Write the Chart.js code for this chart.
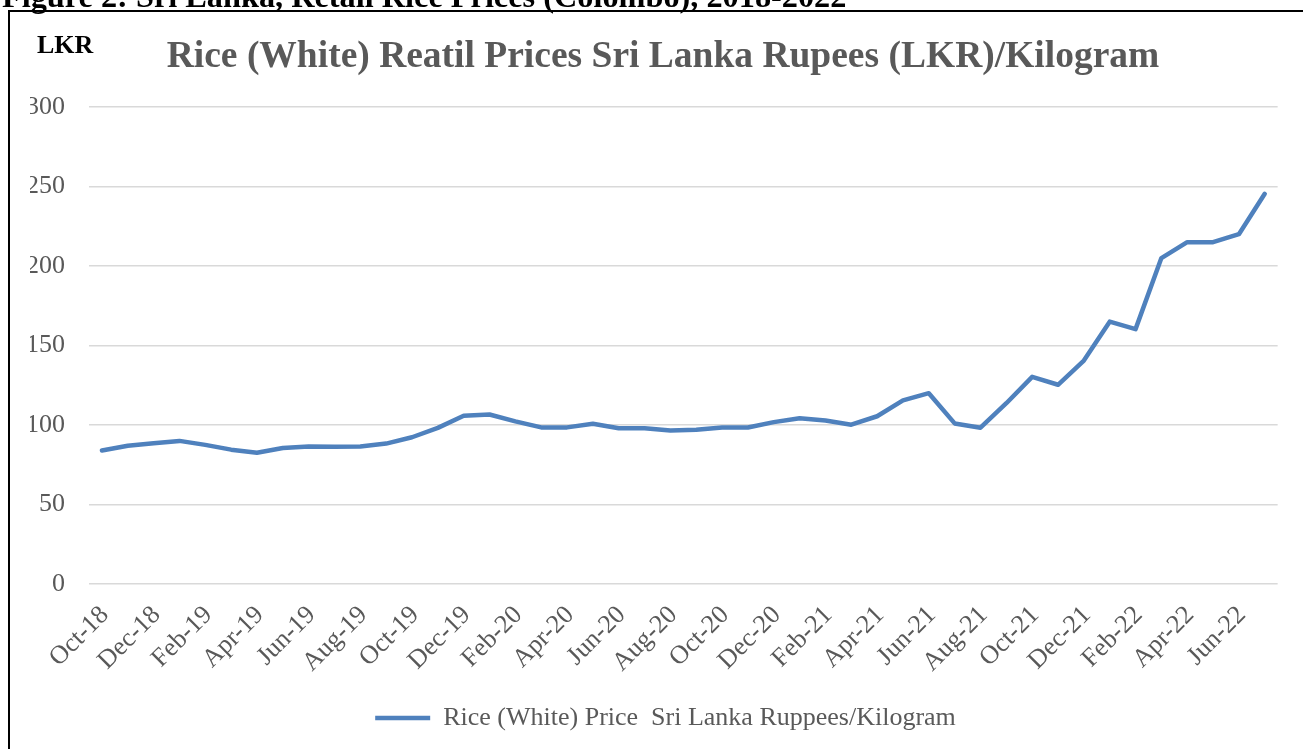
<!DOCTYPE html>
<html>
<head>
<meta charset="utf-8">
<script src="https://cdn.jsdelivr.net/npm/chart.js@4/dist/chart.umd.min.js"></script>
<style>
  html, body { margin: 0; padding: 0; background: #ffffff; }
  #wrap { position: relative; width: 1303px; height: 749px; overflow: hidden; }
  canvas { display: block; }
</style>
</head>
<body>
<div id="wrap"><canvas id="c" width="1303" height="749"></canvas></div>
<script>
const months = [
  "Oct-18","Nov-18","Dec-18","Jan-19","Feb-19","Mar-19","Apr-19","May-19","Jun-19","Jul-19","Aug-19","Sep-19",
  "Oct-19","Nov-19","Dec-19","Jan-20","Feb-20","Mar-20","Apr-20","May-20","Jun-20","Jul-20","Aug-20","Sep-20",
  "Oct-20","Nov-20","Dec-20","Jan-21","Feb-21","Mar-21","Apr-21","May-21","Jun-21","Jul-21","Aug-21","Sep-21",
  "Oct-21","Nov-21","Dec-21","Jan-22","Feb-22","Mar-22","Apr-22","May-22","Jun-22","Jul-22"
];
const riceWhitePrice = [
  84, 87, 88.5, 90, 87.5, 84.5, 82.5, 85.5, 86.5, 86.3, 86.5, 88.3,
  92.3, 98.2, 105.8, 106.6, 102.3, 98.5, 98.5, 100.8, 98, 98, 96.6, 97,
  98.4, 98.4, 101.8, 104.3, 102.8, 100.2, 105.5, 115.5, 120, 101, 98.3, 113.7,
  130.3, 125.3, 140.5, 165, 160.3, 205, 215, 215, 220, 245.4
];
const yTicks = [0, 50, 100, 150, 200, 250, 300];
const seriesLabel = "Rice (White) Price  Sri Lanka Ruppees/Kilogram";
const chartTitle = "Rice (White) Reatil Prices Sri Lanka Rupees (LKR)/Kilogram";
const unitLabel = "LKR";
const figureCaption = "Figure 2: Sri Lanka, Retail Rice Prices (Colombo), 2018-2022";

const SERIF = "'Liberation Serif', 'Times New Roman', serif";
const GREY = "#595959";

const decor = {
  id: "decor",
  afterDraw(chart) {
    const ctx = chart.ctx;
    ctx.save();
    // frame
    ctx.strokeStyle = "#000000";
    ctx.lineWidth = 2;
    ctx.beginPath();
    ctx.moveTo(9, 760);
    ctx.lineTo(9, 11);
    ctx.lineTo(1310, 11);
    ctx.stroke();
    // caption (clipped at top)
    ctx.fillStyle = "#000000";
    ctx.font = "bold 32.3px " + SERIF;
    ctx.textAlign = "left";
    ctx.textBaseline = "alphabetic";
    ctx.fillText(figureCaption, 2, 7);
    // unit label
    ctx.font = "bold 26px " + SERIF;
    ctx.fillText(unitLabel, 37, 53);
    // title
    ctx.fillStyle = GREY;
    ctx.font = "bold 37.5px " + SERIF;
    ctx.textAlign = "center";
    ctx.fillText(chartTitle, 663, 67);
    ctx.restore();
  }
};

new Chart(document.getElementById("c"), {
  type: "line",
  data: {
    labels: months,
    datasets: [{
      label: seriesLabel,
      data: riceWhitePrice,
      borderColor: "#4f81bd",
      backgroundColor: "#4f81bd",
      borderWidth: 4.5,
      pointRadius: 0,
      pointHoverRadius: 0,
      tension: 0,
      borderJoinStyle: "round",
      borderCapStyle: "round",
      fill: false,
      yAxisID: "y"
    }]
  },
  options: {
    responsive: false,
    animation: false,
    devicePixelRatio: 1,
    layout: { padding: { left: 30, right: 2, top: 107, bottom: 8 } },
    plugins: {
      title: { display: false },
      tooltip: { enabled: false },
      legend: {
        display: true,
        position: "bottom",
        labels: {
          usePointStyle: true,
          pointStyle: "line",
          pointStyleWidth: 55,
          boxHeight: 26,
          padding: 10,
          color: GREY,
          font: { family: SERIF, size: 26 }
        }
      }
    },
    scales: {
      x: {
        offset: true,
        grid: { display: false, drawTicks: false, offset: true },
        border: { display: false },
        ticks: {
          autoSkip: false,
          maxRotation: 45,
          minRotation: 45,
          padding: 16,
          labelOffset: 3,
          color: GREY,
          font: { family: SERIF, size: 26 },
          callback: function(v, i) { return i % 2 === 0 ? months[i] : ""; }
        },
        afterFit: function(s) { s.height = 111; }
      },
      y: {
        position: "left",
        min: 0,
        max: 300,
        afterBuildTicks: function(s) { s.ticks = yTicks.map(v => ({ value: v })); },
        grid: { color: "#d9d9d9", lineWidth: 1.5, drawTicks: false },
        border: { display: false },
        ticks: {
          padding: 24,
          color: GREY,
          font: { family: SERIF, size: 26 }
        },
        afterFit: function(s) { s.width = 59; }
      },
      yRight: {
        position: "right",
        display: true,
        min: 0,
        max: 300,
        grid: { display: false, drawTicks: false },
        border: { display: false },
        ticks: { display: false },
        afterFit: function(s) { s.width = 16; }
      }
    }
  },
  plugins: [decor]
});
</script>
</body>
</html>
